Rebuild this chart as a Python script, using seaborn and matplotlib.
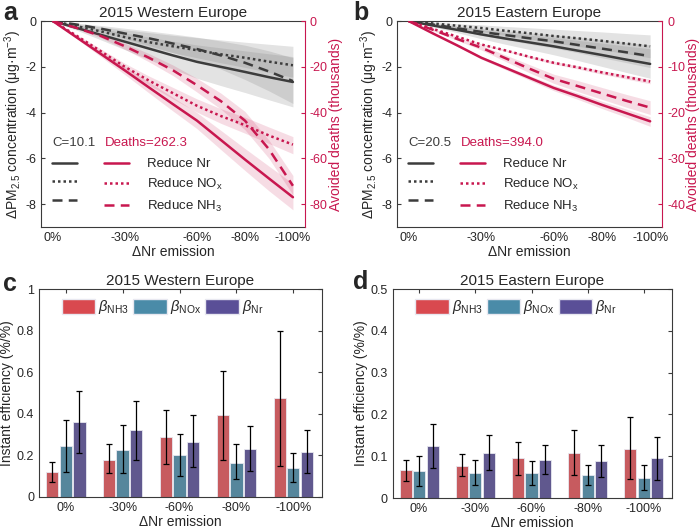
import numpy as np
import pandas as pd
import seaborn as sns
import matplotlib.pyplot as plt
from matplotlib.patches import Patch

sns.set_style("white")
plt.rcParams['font.family'] = ['Liberation Sans', 'DejaVu Sans']
plt.rcParams['axes.unicode_minus'] = False
plt.rcParams['mathtext.fontset'] = 'custom'
plt.rcParams['mathtext.rm'] = 'Liberation Sans'
plt.rcParams['mathtext.it'] = 'Liberation Sans:italic'
plt.rcParams['axes.edgecolor'] = '#3a3a3a'
plt.rcParams['axes.linewidth'] = 0.8

# ---- data: top panels (x = % reduction of Nr emission) ----
reduction = [0, 10, 20, 30, 40, 50, 60, 70, 80, 90, 100]
xtick_pos = [0, 30, 60, 80, 100]
xtick_labels = ['0%', '-30%', '-60%', '-80%', '-100%']

# Western Europe, PM2.5 change (ug/m3)
west_pm_nr = [0, -0.3, -0.6, -0.9, -1.2, -1.5, -1.78, -2.0, -2.22, -2.45, -2.66]
west_pm_nr_lo = [0, -0.4, -0.82, -1.25, -1.68, -2.1, -2.5, -2.82, -3.12, -3.44, -3.75]
west_pm_nr_hi = [0, -0.17, -0.34, -0.52, -0.7, -0.88, -1.04, -1.17, -1.3, -1.43, -1.55]
west_pm_nox = [0, -0.22, -0.45, -0.7, -0.92, -1.1, -1.27, -1.45, -1.6, -1.77, -1.93]
west_pm_nox_lo = [0, -0.28, -0.56, -0.86, -1.14, -1.38, -1.6, -1.82, -2.02, -2.24, -2.45]
west_pm_nox_hi = [0, -0.12, -0.25, -0.38, -0.5, -0.62, -0.72, -0.82, -0.92, -1.01, -1.1]
west_pm_nh3 = [0, -0.15, -0.33, -0.54, -0.75, -0.98, -1.22, -1.5, -1.82, -2.2, -2.62]
west_pm_nh3_lo = [0, -0.22, -0.47, -0.76, -1.06, -1.38, -1.72, -2.1, -2.55, -3.05, -3.6]
west_pm_nh3_hi = [0, -0.09, -0.19, -0.31, -0.43, -0.56, -0.7, -0.87, -1.05, -1.3, -1.6]

# Western Europe, avoided deaths (thousands)
west_d_nr = [0, -7.2, -14.4, -21.6, -29, -36.3, -43.5, -52, -60.5, -68.8, -77]
west_d_nr_lo = [0, -7.8, -15.6, -23.4, -31.4, -39.3, -47, -56.2, -65.3, -74.2, -82.5]
west_d_nr_hi = [0, -6.6, -13.2, -19.8, -26.6, -33.3, -40, -47.8, -55.7, -63.4, -71]
west_d_nox = [0, -6.5, -13.2, -20, -26, -31.5, -37, -41.5, -45.5, -50, -54]
west_d_nox_lo = [0, -7, -14.2, -21.5, -28, -34, -39.8, -44.7, -49, -53.5, -58]
west_d_nox_hi = [0, -6, -12.2, -18.5, -24, -29, -34, -38.3, -42, -46.3, -50.5]
west_d_nh3 = [0, -3, -6.5, -11, -16, -21.5, -28, -35, -43.5, -56, -72]
west_d_nh3_lo = [0, -3.4, -7.3, -12.3, -17.8, -23.8, -31, -38.5, -47.5, -60, -76]
west_d_nh3_hi = [0, -2.6, -5.7, -9.7, -14.2, -19.2, -25, -31.5, -39.5, -52, -67.5]

# Eastern Europe, PM2.5 change (ug/m3)
east_pm_nr = [0, -0.19, -0.38, -0.58, -0.76, -0.93, -1.1, -1.29, -1.48, -1.68, -1.87]
east_pm_nr_lo = [0, -0.25, -0.5, -0.77, -1.01, -1.24, -1.47, -1.72, -1.98, -2.24, -2.5]
east_pm_nr_hi = [0, -0.12, -0.25, -0.37, -0.5, -0.61, -0.72, -0.84, -0.96, -1.09, -1.21]
east_pm_nox = [0, -0.1, -0.2, -0.3, -0.42, -0.53, -0.65, -0.75, -0.86, -0.98, -1.1]
east_pm_nox_lo = [0, -0.15, -0.3, -0.45, -0.62, -0.78, -0.95, -1.1, -1.25, -1.42, -1.6]
east_pm_nox_hi = [0, -0.05, -0.11, -0.16, -0.23, -0.29, -0.35, -0.41, -0.47, -0.54, -0.6]
east_pm_nh3 = [0, -0.15, -0.31, -0.47, -0.61, -0.75, -0.88, -1.04, -1.2, -1.36, -1.53]
east_pm_nh3_lo = [0, -0.2, -0.41, -0.62, -0.81, -1.0, -1.17, -1.38, -1.6, -1.81, -2.03]
east_pm_nh3_hi = [0, -0.1, -0.21, -0.32, -0.42, -0.51, -0.6, -0.71, -0.82, -0.93, -1.04]

# Eastern Europe, avoided deaths (thousands)
east_d_nr = [0, -2.7, -5.3, -8, -10.2, -12.4, -14.6, -16.4, -18.3, -20.1, -21.9]
east_d_nr_lo = [0, -2.8, -5.5, -8.3, -10.6, -12.9, -15.2, -17.1, -19.1, -21, -23]
east_d_nr_hi = [0, -2.6, -5.1, -7.7, -9.8, -11.9, -14, -15.7, -17.5, -19.2, -20.9]
east_d_nox = [0, -1.7, -3.4, -5.1, -6.4, -7.8, -9.1, -10.1, -11.2, -12.2, -13.2]
east_d_nox_lo = [0, -1.75, -3.5, -5.25, -6.6, -8.05, -9.4, -10.45, -11.6, -12.65, -13.7]
east_d_nox_hi = [0, -1.65, -3.3, -4.95, -6.2, -7.55, -8.8, -9.75, -10.8, -11.75, -12.7]
east_d_nh3 = [0, -1.9, -3.9, -5.8, -8.1, -10.4, -12.6, -14.2, -15.8, -17.4, -18.9]
east_d_nh3_lo = [0, -2.1, -4.2, -6.3, -8.8, -11.3, -13.6, -15.4, -17.1, -18.8, -20.4]
east_d_nh3_hi = [0, -1.7, -3.6, -5.3, -7.4, -9.5, -11.6, -13.0, -14.5, -16.0, -17.4]

# ---- data: bottom panels (instant efficiency) ----
beta_cats = ['0%', '-30%', '-60%', '-80%', '-100%']
beta_names = [r'$\beta_{\rm NH3}$', r'$\beta_{\rm NOx}$', r'$\beta_{\rm Nr}$']

west_nh3 = [0.12, 0.18, 0.29, 0.395, 0.475]
west_nh3_lo = [0.07, 0.115, 0.16, 0.18, 0.15]
west_nh3_hi = [0.17, 0.255, 0.42, 0.605, 0.80]
west_nox = [0.245, 0.225, 0.20, 0.165, 0.14]
west_nox_lo = [0.12, 0.115, 0.10, 0.085, 0.07]
west_nox_hi = [0.37, 0.345, 0.305, 0.255, 0.21]
west_nr = [0.36, 0.32, 0.265, 0.23, 0.215]
west_nr_lo = [0.21, 0.18, 0.145, 0.125, 0.115]
west_nr_hi = [0.51, 0.46, 0.395, 0.34, 0.32]

east_nh3 = [0.066, 0.077, 0.095, 0.107, 0.118]
east_nh3_lo = [0.042, 0.052, 0.056, 0.054, 0.045]
east_nh3_hi = [0.092, 0.105, 0.135, 0.162, 0.193]
east_nox = [0.065, 0.061, 0.060, 0.055, 0.047]
east_nox_lo = [0.03, 0.031, 0.031, 0.031, 0.019]
east_nox_hi = [0.10, 0.092, 0.088, 0.080, 0.078]
east_nr = [0.125, 0.107, 0.091, 0.089, 0.095]
east_nr_lo = [0.073, 0.066, 0.057, 0.051, 0.044]
east_nr_hi = [0.177, 0.15, 0.127, 0.127, 0.146]

GRAY = '#3c3c3c'
CRIMSON = '#c8174f'
BAR_COLORS = ['#d9494f', '#4a8ba8', '#5a4f97']
DOT = (0, (1, 1.2))
DASH = (0, (4, 2.5))


def line_panel(ax, pm, deaths, ylim2, yticks2, c_text, d_text, title):
    styles = ['-', DOT, DASH]
    for (y, lo, hi) in pm:
        ax.fill_between(reduction, lo, hi, color='#808080', alpha=0.22, lw=0)
    for (y, lo, hi), ls in zip(pm, styles):
        sns.lineplot(x=reduction, y=y, ax=ax, color=GRAY, lw=1.8, linestyle=ls)
    ax.set_xlim(-5, 105)
    ax.set_ylim(-9, 0)
    ax.set_yticks([0, -2, -4, -6, -8])
    ax.set_xticks(xtick_pos)
    ax.set_xticklabels(xtick_labels)
    ax.tick_params(direction='in', length=3, labelsize=9, colors=GRAY,
                   labelcolor='#262626')
    ax.set_xlabel('ΔNr emission', fontsize=10, labelpad=1)
    ax.set_ylabel('ΔPM$_{2.5}$ concentration (μg·m$^{-3}$)', fontsize=10, labelpad=1)
    ax.set_title(title, fontsize=11, pad=3)
    ax.spines['right'].set_visible(False)

    ax2 = ax.twinx()
    for (y, lo, hi) in deaths:
        ax2.fill_between(reduction, lo, hi, color=CRIMSON, alpha=0.15, lw=0)
    for (y, lo, hi), ls in zip(deaths, styles):
        sns.lineplot(x=reduction, y=y, ax=ax2, color=CRIMSON, lw=1.8, linestyle=ls)
    ax2.set_ylim(*ylim2)
    ax2.set_yticks(yticks2)
    ax2.set_ylabel('Avoided deaths (thousands)', fontsize=10, color=CRIMSON, labelpad=1)
    ax2.tick_params(axis='y', direction='in', length=3, labelsize=9, colors=CRIMSON)
    ax2.spines['right'].set_color(CRIMSON)
    for s in ['left', 'top', 'bottom']:
        ax2.spines[s].set_visible(False)

    handles = ax.get_lines()[:3] + ax2.get_lines()[:3]
    labels = ['', '', '', 'Reduce Nr', r'Reduce NO$_{\rm x}$', r'Reduce NH$_{\rm 3}$']
    ax2.legend(handles, labels, ncol=2, loc='upper left', bbox_to_anchor=(0.04, 0.335),
               frameon=False, fontsize=9.5, handlelength=1.9, handletextpad=1.3,
               columnspacing=0.8, labelspacing=0.5, borderpad=0, borderaxespad=0)
    ax2.text(0.042, 0.41, c_text, transform=ax2.transAxes, fontsize=9.5,
             color=GRAY, va='center')
    ax2.text(0.242, 0.41, d_text, transform=ax2.transAxes, fontsize=9.5,
             color=CRIMSON, va='center')


def bar_panel(ax, groups, ylim, yticks, yticklabels, title):
    df = pd.DataFrame({
        'emission': beta_cats * 3,
        'beta': [n for n in beta_names for _ in beta_cats],
        'value': groups[0][0] + groups[1][0] + groups[2][0],
    })
    sns.barplot(data=df, x='emission', y='value', hue='beta', order=beta_cats,
                hue_order=beta_names, palette=BAR_COLORS, width=0.72, gap=0.1,
                errorbar=None, edgecolor='#e8e8f0', linewidth=0.6, legend=False, ax=ax)
    for cont, (vals, lo, hi) in zip(ax.containers, groups):
        xs = [b.get_x() + b.get_width() / 2 for b in cont]
        err = [np.array(vals) - np.array(lo), np.array(hi) - np.array(vals)]
        ax.errorbar(xs, vals, yerr=err, fmt='none', ecolor='black', elinewidth=0.9,
                    capsize=2.5, capthick=0.9)
    ax.set_xlim(-0.47, 4.5)
    ax.set_ylim(*ylim)
    ax.set_yticks(yticks)
    ax.set_yticklabels(yticklabels)
    ax.tick_params(direction='in', length=3, labelsize=9, top=True, right=True,
                   colors=GRAY, labelcolor='#262626')
    ax.set_xlabel('ΔNr emission', fontsize=10, labelpad=1)
    ax.set_ylabel('Instant efficiency (%/%)', fontsize=10, labelpad=2)
    ax.set_title(title, fontsize=11, pad=3)
    hs = [Patch(facecolor=c, edgecolor='#e8e8f0') for c in BAR_COLORS]
    ax.legend(hs, beta_names, ncol=3, loc='upper left', bbox_to_anchor=(0.06, 0.985),
              frameon=False, fontsize=10.5, handlelength=2.3, handleheight=1.2,
              handletextpad=0.2, columnspacing=0.3, borderaxespad=0)


fig = plt.figure(figsize=(7, 5.29), dpi=100)
ax_a = fig.add_axes([0.0586, 0.571, 0.377, 0.389])
ax_b = fig.add_axes([0.567, 0.571, 0.379, 0.389])
ax_c = fig.add_axes([0.0557, 0.0605, 0.404, 0.393])
ax_d = fig.add_axes([0.561, 0.0585, 0.399, 0.395])

line_panel(ax_a,
           [(west_pm_nr, west_pm_nr_lo, west_pm_nr_hi),
            (west_pm_nox, west_pm_nox_lo, west_pm_nox_hi),
            (west_pm_nh3, west_pm_nh3_lo, west_pm_nh3_hi)],
           [(west_d_nr, west_d_nr_lo, west_d_nr_hi),
            (west_d_nox, west_d_nox_lo, west_d_nox_hi),
            (west_d_nh3, west_d_nh3_lo, west_d_nh3_hi)],
           (-90, 0), [0, -20, -40, -60, -80], 'C=10.1', 'Deaths=262.3',
           '2015 Western Europe')
line_panel(ax_b,
           [(east_pm_nr, east_pm_nr_lo, east_pm_nr_hi),
            (east_pm_nox, east_pm_nox_lo, east_pm_nox_hi),
            (east_pm_nh3, east_pm_nh3_lo, east_pm_nh3_hi)],
           [(east_d_nr, east_d_nr_lo, east_d_nr_hi),
            (east_d_nox, east_d_nox_lo, east_d_nox_hi),
            (east_d_nh3, east_d_nh3_lo, east_d_nh3_hi)],
           (-45, 0), [0, -10, -20, -30, -40], 'C=20.5', 'Deaths=394.0',
           '2015 Eastern Europe')

bar_panel(ax_c,
          [(west_nh3, west_nh3_lo, west_nh3_hi),
           (west_nox, west_nox_lo, west_nox_hi),
           (west_nr, west_nr_lo, west_nr_hi)],
          (0, 1), [0, 0.2, 0.4, 0.6, 0.8, 1], ['0', '0.2', '0.4', '0.6', '0.8', '1'],
          '2015 Western Europe')
bar_panel(ax_d,
          [(east_nh3, east_nh3_lo, east_nh3_hi),
           (east_nox, east_nox_lo, east_nox_hi),
           (east_nr, east_nr_lo, east_nr_hi)],
          (0, 0.5), [0, 0.1, 0.2, 0.3, 0.4, 0.5], ['0', '0.1', '0.2', '0.3', '0.4', '0.5'],
          '2015 Eastern Europe')

for letter, x, y in [('a', 0.004, 0.998), ('b', 0.505, 0.998),
                     ('c', 0.004, 0.485), ('d', 0.505, 0.49)]:
    fig.text(x, y, letter, fontsize=18, fontweight='bold', va='top', ha='left')

plt.savefig('out.png', dpi=100)
